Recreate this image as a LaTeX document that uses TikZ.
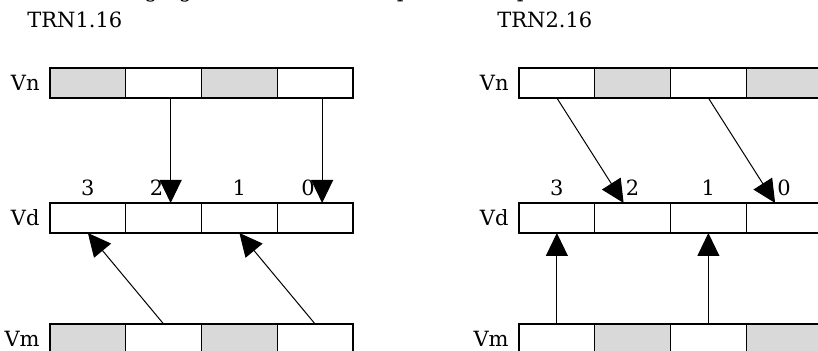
\documentclass[tikz,border=0pt]{standalone}
\usepackage{fontspec}
\setmainfont{DejaVu Serif}
\usetikzlibrary{arrows.meta, positioning, calc}
\definecolor{cCellShade}{RGB}{217,217,217}

\tikzset{
  cell/.style={draw, line width=0.5pt, minimum width=37.875pt, minimum height=15pt,
               inner sep=0pt, outer sep=0pt, anchor=north west},
  frame/.style={line width=1pt},
  regname/.style={inner sep=0pt},
  lane/.style={inner sep=0pt},
  move/.style={line width=0.5pt, -{Triangle[length=11.5pt, width=11pt]}}
}

\begin{document}
\begin{tikzpicture}[x=0.5pt, y=-0.5pt, every node/.style={font=\fontsize{10.5}{12.6}\selectfont}]
  \useasboundingbox (0,0) rectangle (818,351);
  \clip (0,0) rectangle (818,351);

  % cut-off line of running text above the figure
  \node[anchor=base west, inner sep=0pt] (intro) at (13,-2)
    {The following figure shows an example of the operation of VTRN, where the data type is 16-bit};

  % titles
  \node[anchor=base west, inner sep=0pt] (titleL) at (27,28) {TRN1.16};
  \node[anchor=base west, inner sep=0pt] (titleR) at (497,28) {TRN2.16};

  % register rows
  \foreach \p/\x/\fa/\fb in {L/50/cCellShade/white, R/519/white/cCellShade} {
    \foreach \r/\y in {n/68, m/324} {
      \foreach \i/\f in {0/\fa, 1/\fb, 2/\fa, 3/\fb}
        \node[cell, fill=\f] (\p\r\i) at (\x+75.75*\i,\y) {};
      \draw[frame] (\p\r0.north west) rectangle (\p\r3.south east);
      \node[regname, left=5pt of \p\r0] (\p\r name) {V\r};
    }
    \foreach \i in {0,...,3}
      \node[cell, fill=white] (\p d\i) at (\x+75.75*\i,203) {};
    \draw[frame] (\p d0.north west) rectangle (\p d3.south east);
    \node[regname, left=5pt of \p d0] (\p dname) {Vd};
  }

  % lane numbers
  \foreach \i/\n/\dx in {0/3/0, 1/2/-7, 2/1/0, 3/0/-7}
    \node[lane] (Llane\i) at ($(Ld\i.north)+(\dx,-15)$) {\n};
  \foreach \i/\n in {0/3, 1/2, 2/1, 3/0}
    \node[lane] (Rlane\i) at ($(Rd\i.north)+(0,-15)$) {\n};

  % TRN1
  \draw[move] ([xshift=3.5pt]Ln1.south) -- ([xshift=3.5pt]Ld1.north);
  \draw[move] ([xshift=3.5pt]Ln3.south) -- ([xshift=3.5pt]Ld3.north);
  \draw[move] (Lm1.north) -- (Ld0.south);
  \draw[move] (Lm3.north) -- (Ld2.south);

  % TRN2
  \draw[move] (Rn0.south) -- ([xshift=-4.5pt]Rd1.north);
  \draw[move] (Rn2.south) -- ([xshift=-4.5pt]Rd3.north);
  \draw[move] (Rm0.north) -- (Rd0.south);
  \draw[move] (Rm2.north) -- (Rd2.south);
\end{tikzpicture}
\end{document}
